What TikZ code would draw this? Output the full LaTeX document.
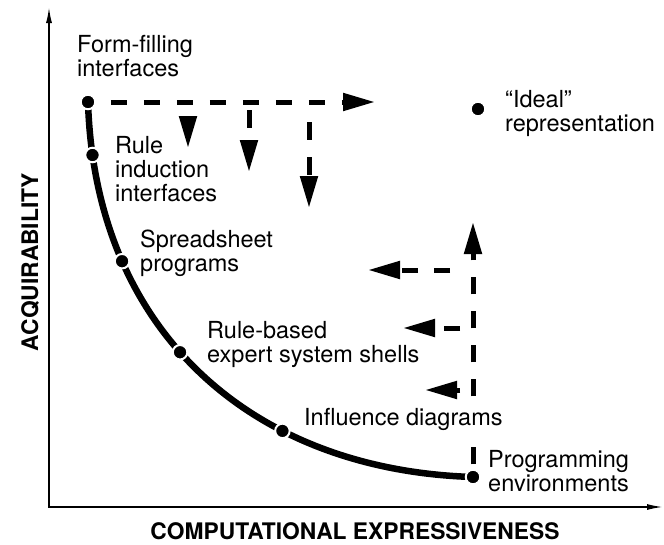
\documentclass[tikz,border=0pt]{standalone}
\usepackage{fontspec}
\setmainfont{TeX Gyre Heros}
\usetikzlibrary{arrows.meta}
\begin{document}
\begin{tikzpicture}[x=1pt,y=-1pt,
  axis/.style={line width=1.6pt},
  thickcurve/.style={line width=6.5pt},
  dot/.style={circle,fill=black,draw=white,line width=2pt,minimum size=14.5pt,inner sep=0pt},
  dashline/.style={line width=5pt,dash pattern=on 18pt off 17pt,-{Triangle[length=32pt,width=17pt]}},
  sidedash/.style={line width=5pt,dash pattern=on 16pt off 16pt,-{Triangle[length=32pt,width=17pt]}},
  lbl/.style={font=\fontsize{23.5}{24}\selectfont,align=left,inner sep=0pt,anchor=north west},
  axlbl/.style={font=\fontsize{22.8}{24}\selectfont\bfseries,inner sep=0pt}]

\useasboundingbox (0,0) rectangle (664,544);

% axes
\coordinate (origin) at (49,507);
\coordinate (ytip) at (49,7);
\coordinate (xtip) at (663,507);
\draw[axis,{Latex[length=16pt,width=6pt]}-{Latex[length=16pt,width=6pt]}] (ytip) -- (origin) -- (xtip);
\node[axlbl,rotate=90,anchor=base] (ylabel) at (38,262) {ACQUIRABILITY};
\node[axlbl,anchor=base] (xlabel) at (355,539) {COMPUTATIONAL EXPRESSIVENESS};

% trade-off curve and the systems placed on it
\draw[thickcurve] (88,102) .. controls (95,330) and (250,470) .. (473,477)
  node[dot,pos=0] (form) {}
  node[dot,pos=0.08] (rule) {}
  node[dot,pos=0.26] (sheet) {}
  node[dot,pos=0.45] (shell) {}
  node[dot,pos=0.68] (infl) {}
  node[dot,pos=1] (prog) {};
\node[dot] (ideal) at (478,109) {};

% moves toward the ideal: from the acquirable end ...
\coordinate (hend) at (375,102);
\draw[dashline,dash pattern=on 16pt off 17pt,dash phase=18.5pt] (form) -- (hend);
\coordinate (h1) at (188,102);
\coordinate (d1) at (188,148);
\draw[dashline,dash phase=18pt] (h1) -- (d1);
\coordinate (h2) at (249,102);
\coordinate (d2) at (249,172);
\draw[dashline,dash phase=27pt] (h2) -- (d2);
\coordinate (h3) at (309,102);
\coordinate (d3) at (309,208);
\draw[dashline,dash phase=18pt,shorten <=3pt] (h3) -- (d3);

% ... and from the expressive end
\coordinate (up) at (473,222);
\draw[dashline,dash pattern=on 17pt off 17pt,dash phase=29.5pt] (prog) -- (up);
\coordinate (v1) at (473,270);
\coordinate (l1) at (368,270);
\draw[sidedash,dash phase=19pt,shorten <=10pt] (v1) -- (l1);
\coordinate (v2) at (473,328);
\coordinate (l2) at (403,328);
\draw[sidedash,dash phase=19pt] (v2) -- (l2);
\coordinate (v3) at (473,390);
\coordinate (l3) at (425,390);
\draw[sidedash,dash phase=19pt] (v3) -- (l3);

% labels
\node[lbl] (tform) at (77,35) {Form-filling\\interfaces};
\node[lbl] (trule) at (115,136) {Rule\\induction\\interfaces};
\node[lbl] (tsheet) at (140,230) {Spreadsheet\\programs};
\node[lbl] (tshell) at (207,321) {Rule-based\\expert system shells};
\node[lbl,anchor=base west,fill=white,inner sep=1.5pt] (tinfl) at (302.5,425) {Influence diagrams};
\node[lbl] (tideal) at (505,90) {“Ideal”\\representation};
\node[lbl] (tprog) at (488,450) {Programming\\environments};
\end{tikzpicture}
\end{document}
